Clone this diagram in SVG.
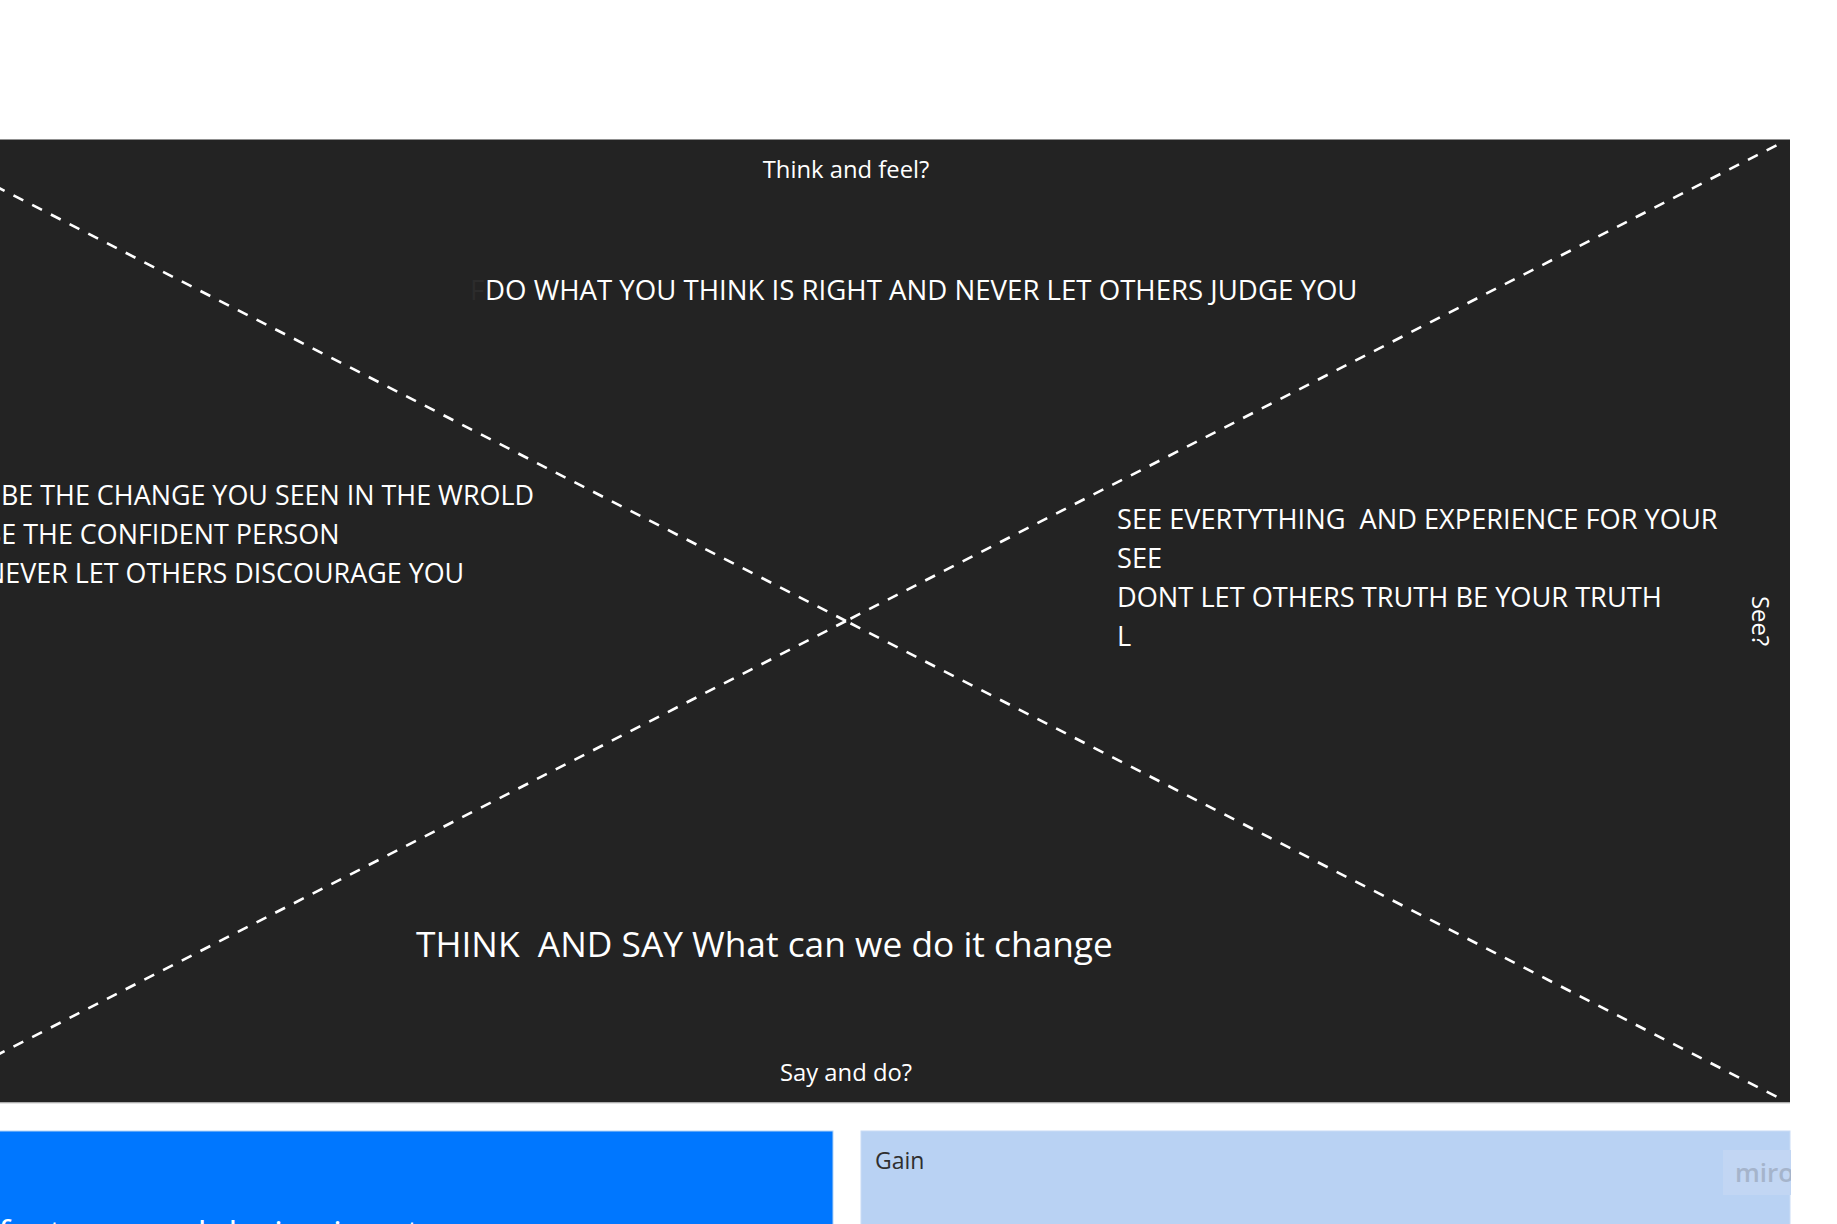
<svg xmlns="http://www.w3.org/2000/svg" width="1837" height="1224" viewBox="0 0 1837 1224">
<style>
text{font-family:"Open Sans","Noto Sans","Liberation Sans",sans-serif;fill:#ffffff;white-space:pre}
.lbl{font-size:23.8px}
.body{font-size:27.2px}
.left{font-size:26.9px}
.top{font-size:27.6px}
.big{font-size:35.3px}
.dash{stroke:#ffffff;stroke-width:2.6;stroke-dasharray:11 10;fill:none}
</style>
<rect width="1837" height="1224" fill="#ffffff"/>
<g id="empathy-map">
<rect x="-2" y="139.5" width="1792" height="963" fill="#232323"/>
<line x1="0" y1="1103" x2="1790" y2="1103" stroke="#c8c8c8" stroke-width="1"/>
</g>
<g id="connectors">
<line class="dash" x1="846" y1="621" x2="-89" y2="143"/>
<line class="dash" x1="846" y1="621" x2="-89" y2="1099"/>
<line class="dash" x1="846" y1="621" x2="1781" y2="143" stroke-dashoffset="16"/>
<line class="dash" x1="846" y1="621" x2="1781" y2="1099" stroke-dashoffset="16"/>
</g>
<g id="think-feel">
<text class="lbl" x="846" y="178" text-anchor="middle">Think and feel?</text>
<text class="top" x="470" y="300" style="fill:#2c2c2c">F</text>
<text class="top" x="485" y="300">DO WHAT YOU THINK IS RIGHT AND NEVER LET OTHERS JUDGE YOU</text>
</g>
<g id="hear">
<text class="left" x="1" y="505">BE THE CHANGE YOU SEEN IN THE WROLD</text>
<text class="left" x="-16" y="544">BE THE CONFIDENT PERSON</text>
<text class="left" x="-15" y="583">NEVER LET OTHERS DISCOURAGE YOU</text>
</g>
<g id="see">
<text class="body" x="1117" y="529" xml:space="preserve">SEE EVERTYTHING  AND EXPERIENCE FOR YOUR</text>
<text class="body" x="1117" y="568">SEE</text>
<text class="body" x="1117" y="607">DONT LET OTHERS TRUTH BE YOUR TRUTH</text>
<text class="body" x="1117" y="646">L</text>
<text class="lbl" x="0" y="0" text-anchor="middle" transform="translate(1752 621) rotate(90)">See?</text>
</g>
<g id="say-do">
<text class="big" x="416" y="957" xml:space="preserve">THINK  AND SAY What can we do it change</text>
<text class="lbl" x="846" y="1081" text-anchor="middle">Say and do?</text>
</g>
<g id="pain">
<rect x="-2" y="1131" width="835" height="100" fill="#0077ff" stroke="#b3d4f5" stroke-width="1"/>
<text class="big" x="-2" y="1246">features and design input</text>
</g>
<g id="gain">
<rect x="861" y="1131" width="929" height="100" fill="#b9d2f3" stroke="#c9dcf5" stroke-width="1"/>
<text x="875" y="1169" style="font-size:23px;fill:#2f2f2f">Gain</text>
<rect x="1723" y="1150" width="68" height="45" fill="#c2d6f3"/>
<text x="1735" y="1182" style="font-size:26px;font-weight:600;fill:#a5b4cb">miro</text>
<rect x="1791" y="1140" width="46" height="84" fill="#ffffff"/>
</g>
</svg>
